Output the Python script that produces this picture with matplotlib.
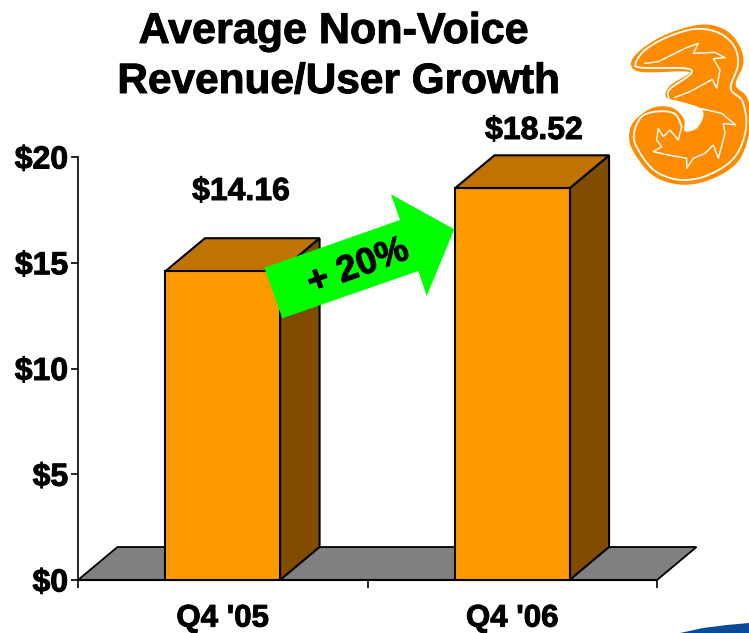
import numpy as np
import matplotlib
matplotlib.use('Agg')
import matplotlib.pyplot as plt
import matplotlib.patheffects as pe
from matplotlib.patches import Polygon

plt.rcParams['font.family'] = ['Liberation Sans', 'DejaVu Sans']
plt.rcParams['font.weight'] = 'bold'

# data
categories = ["Q4 '05", "Q4 '06"]
bar_labels = ['$14.16', '$18.52']
bar_heights = [14.6, 18.52]   # first bar is drawn a bit taller than its label in the original
y_ticks = [0, 5, 10, 15, 20]
y_tick_labels = ['$0', '$5', '$10', '$15', '$20']
title_lines = ['Average Non-Voice', 'Revenue/User Growth']
arrow_label = '+ 20%'

bar_width = 0.396
depth_x = 39.5 / 289.5   # 3d offset in x units
depth_y = 33 / 21.15     # 3d offset in dollars

front = '#FF9900'
top = '#BF7300'
side = '#7F4C00'
floor = '#808080'
W, H = 749, 633
heavy = [pe.withStroke(linewidth=0.7, foreground='black')]

fig = plt.figure(figsize=(W / 100, H / 100), dpi=100)
ax = fig.add_axes([78 / W, 1 - 580 / H, 579 / W, 423 / H])
ax.set_xlim(0, 2)
ax.set_ylim(0, 20)
ax.patch.set_visible(False)
for s in ['top', 'right']:
    ax.spines[s].set_visible(False)
ax.spines['left'].set_linewidth(1.2)
ax.spines['bottom'].set_linewidth(1.5)

ax.set_yticks(y_ticks)
ax.set_yticklabels(y_tick_labels, fontsize=23, fontweight='bold', path_effects=heavy)
ax.tick_params(axis='y', length=5, width=1.2, pad=2)
ax.set_xticks([0, 1, 2])
ax.set_xticklabels([])
ax.tick_params(axis='x', which='major', length=6, width=1.2)
ax.set_xticks([0.5, 1.5], minor=True)
ax.set_xticklabels(categories, minor=True, fontsize=22.5, fontweight='bold', path_effects=heavy)
ax.tick_params(axis='x', which='minor', length=0, pad=17)

# floor
ax.add_patch(Polygon([(0, 0), (2, 0), (2 + depth_x, depth_y), (depth_x, depth_y)],
                     closed=True, fc=floor, ec='black', lw=1.3, clip_on=False, zorder=1))

# 3d bars
for i, h in enumerate(bar_heights):
    x0 = i + 0.5 - bar_width / 2
    x1 = x0 + bar_width
    z = 3 if i == 0 else 6
    ax.add_patch(Polygon([(x1, 0), (x1 + depth_x, depth_y), (x1 + depth_x, h + depth_y), (x1, h)],
                         closed=True, fc=side, ec='black', lw=1.5, clip_on=False, zorder=z))
    ax.add_patch(Polygon([(x0, h), (x1, h), (x1 + depth_x, h + depth_y), (x0 + depth_x, h + depth_y)],
                         closed=True, fc=top, ec='black', lw=1.5, clip_on=False, zorder=z))
    ax.add_patch(Polygon([(x0, 0), (x1, 0), (x1, h), (x0, h)],
                         closed=True, fc=front, ec='black', lw=1.5, clip_on=False, zorder=z))

# overlay in pixel coords for the annotations and logo
ov = fig.add_axes([0, 0, 1, 1], zorder=5)
ov.set_xlim(0, W)
ov.set_ylim(H, 0)
ov.axis('off')

ov.text(333, 32, title_lines[0], ha='center', va='center', fontsize=31, fontweight='bold', path_effects=heavy)
ov.text(339, 82, title_lines[1], ha='center', va='center', fontsize=30.5, fontweight='bold', path_effects=heavy)
ov.text(241, 192, bar_labels[0], ha='center', va='center', fontsize=23, fontweight='bold', path_effects=heavy)
ov.text(534, 131, bar_labels[1], ha='center', va='center', fontsize=23, fontweight='bold', path_effects=heavy)

arrow_pts = [(264.3, 267.7), (400, 220), (391, 194.3), (454.3, 229.3),
             (426.7, 296), (418.3, 271), (282.3, 318.3)]
ov.add_patch(Polygon(arrow_pts, closed=True, fc='#00FF00', ec='none'))
ov.text(358, 267, arrow_label, ha='center', va='center', rotation=20, fontsize=26.5, fontweight='bold',
        path_effects=heavy)


def smooth(pts, closed=False, n=10):
    # catmull-rom through the hand-traced logo points
    p = np.array(pts, dtype=float)
    if closed:
        p = np.vstack([p[-1], p, p[0], p[1]])
    else:
        p = np.vstack([p[0], p, p[-1]])
    out = []
    for i in range(1, len(p) - 2):
        for t in np.linspace(0, 1, n, endpoint=False):
            out.append(0.5 * (2 * p[i] + (p[i + 1] - p[i - 1]) * t
                              + (2 * p[i - 1] - 5 * p[i] + 4 * p[i + 1] - p[i + 2]) * t ** 2
                              + (3 * p[i] - p[i - 1] - 3 * p[i + 1] + p[i + 2]) * t ** 3))
    return np.array(out)


def to_px(a):
    a = np.array(a, dtype=float)
    return np.column_stack([600 + a[:, 0] / 3, a[:, 1] / 3])


def from_z4(pts):
    return [(x + 75, y + 60) for x, y in pts]


def from_z5(pts):
    return [(x + 75, y + 270) for x, y in pts]


logo = '#FF8C00'
outer = [(95, 190), (125, 150), (200, 105), (300, 76), (372, 90), (415, 135), (428, 190), (405, 255),
         (440, 295), (450, 375), (415, 480), (335, 535), (245, 552), (160, 525), (100, 450), (90, 400),
         (108, 360), (160, 325), (215, 325), (250, 358), (252, 395), (290, 388), (312, 350), (300, 322),
         (240, 302), (200, 290), (212, 258), (268, 222), (250, 212), (125, 214)]
ring_a = [(245, 380), (225, 342), (175, 334), (125, 350), (102, 400), (112, 445), (165, 513), (245, 540),
          (330, 523), (405, 470), (438, 385), (428, 305), (392, 265), (414, 195), (402, 138), (355, 98),
          (285, 87), (205, 110), (135, 150), (107, 190), (125, 203), (255, 205), (272, 222), (212, 265),
          (205, 290), (225, 312), (305, 327), (320, 330)]
flame_top = from_z4([(60, 130), (100, 125), (180, 85), (220, 70), (205, 100), (270, 97), (300, 113),
                     (265, 116), (285, 150), (275, 205), (262, 178), (195, 215), (150, 232)])
flame_low = from_z5([(245, 60), (290, 70), (332, 105), (295, 100), (300, 130), (280, 205), (265, 165),
                     (240, 190), (205, 205), (185, 235), (185, 205), (130, 195), (85, 185), (110, 170),
                     (95, 150), (100, 115), (115, 140), (135, 120), (160, 150), (170, 110)])

ov.add_patch(Polygon(to_px(smooth(outer, closed=True)), closed=True, fc=logo, ec=logo, lw=1.0))
ring = to_px(smooth(ring_a))
ov.plot(ring[:, 0], ring[:, 1], color='white', lw=1.3, solid_joinstyle='round')
for f in [flame_top, flame_low]:
    f = to_px(f)
    ov.plot(f[:, 0], f[:, 1], color='white', lw=1.0, solid_joinstyle='round')

# corner of the blue swoosh, bottom right
swoosh = [(680, 633), (703, 628), (727, 625), (749, 623), (749, 633)]
ov.add_patch(Polygon(swoosh, closed=True, fc='#0B4A97', ec='none', clip_on=True))

fig.savefig('out.png', dpi=100)
